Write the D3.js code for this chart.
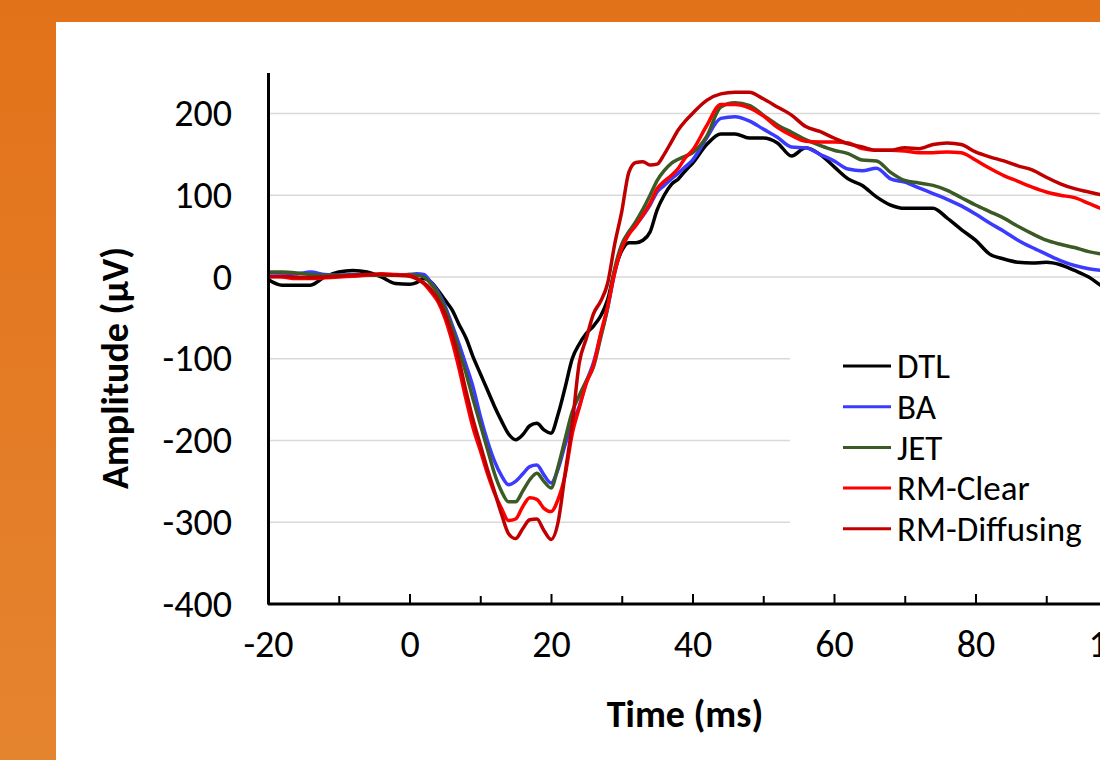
<!DOCTYPE html>
<html>
<head>
<meta charset="utf-8">
<script src="https://cdn.jsdelivr.net/npm/d3@7"></script>
<style>
  html, body { margin: 0; padding: 0; background: #fff; }
  svg { display: block; }
  text { font-family: Carlito, Calibri, Lato, sans-serif; }
</style>
</head>
<body>
<svg id="chart" width="1100" height="760"></svg>
<script>
'use strict';

// time points (ms)
const times = [
  -20, -18, -16, -14, -12, -10, -8, -6, -4, -2, 0,
  1, 2, 3, 4, 5, 6, 7, 8, 9, 10, 11, 12, 13, 14, 15, 16, 17, 18, 19, 20,
  21, 22, 23, 24, 25, 26, 27, 28, 29, 30, 31, 32, 33, 34, 35, 36, 37, 38, 39, 40,
  42, 44, 46, 48, 50, 52, 54, 56, 58, 60, 62, 64, 66, 68, 70,
  72, 74, 76, 78, 80, 82, 84, 86, 88, 90, 92, 94, 96, 98, 100
];

const dtl = [
  -3, -10, -10, -10, 0, 6, 8, 6, 0, -8, -9,
  -7, -2, -6, -16, -28, -40, -58, -75, -98, -118, -138, -158, -176, -192, -199, -193, -182, -179, -187, -191,
  -168, -135, -100, -82, -69, -60, -48, -28, 8, 32, 42, 42, 45, 55, 82, 100, 113, 120, 130, 139,
  162, 175, 175, 170, 170, 164, 148, 158, 150, 135, 120, 112, 98, 88, 84,
  84, 84, 72, 58, 45, 28, 22, 18, 17, 18, 15, 8, 0, -12, -20
];

const ba = [
  5, 5, 4, 6, 3, 2, 3, 2, 2, 2, 3,
  4, 3, -6, -18, -35, -58, -82, -108, -135, -170, -200, -225, -243, -254, -250, -241, -232, -230, -242, -252,
  -235, -205, -180, -158, -128, -105, -72, -38, 5, 38, 55, 64, 75, 88, 104, 112, 120, 127, 135, 143,
  170, 194, 196, 191, 181, 171, 159, 158, 150, 142, 132, 130, 133, 120, 116,
  109, 102, 95, 87, 77, 66, 56, 45, 36, 28, 20, 14, 10, 8, 7
];

const jet = [
  6, 6, 5, 3, 2, 2, 2, 2, 2, 2, 3,
  2, 0, -8, -20, -38, -62, -90, -118, -150, -180, -210, -240, -262, -275, -275, -262, -248, -240, -250, -258,
  -232, -198, -165, -145, -127, -110, -75, -38, 10, 40, 55, 68, 83, 100, 118, 130, 139, 144, 148, 152,
  172, 208, 213, 210, 198, 186, 177, 168, 161, 155, 151, 143, 142, 128, 118,
  115, 112, 106, 97, 88, 80, 72, 62, 53, 45, 40, 36, 31, 28, 26
];

const rmClear = [
  1, 0, -2, -2, -1, 0, 1, 2, 4, 3, 2,
  -2, -8, -18, -30, -50, -78, -112, -150, -185, -212, -240, -264, -283, -298, -296, -281, -270, -272, -283, -287,
  -272, -242, -192, -160, -130, -108, -70, -36, 5, 35, 52, 63, 76, 90, 108, 117, 124, 133, 146, 155,
  185, 211, 211, 207, 197, 183, 173, 166, 165, 165, 164, 157, 155, 155, 154,
  152, 152, 153, 152, 143, 133, 124, 117, 110, 104, 100, 97, 90, 83, 78
];

const rmDiffusing = [
  0, 1, 0, -1, 0, 1, 2, 3, 3, 2, 1,
  -2, -7, -15, -27, -45, -70, -102, -140, -175, -205, -235, -262, -290, -314, -320, -308, -297, -296, -310, -321,
  -300, -240, -180, -105, -75, -45, -30, -8, 40, 80, 128, 140, 141, 137, 138, 150, 165, 180, 191, 200,
  216, 224, 226, 226, 218, 208, 198, 184, 178, 170, 163, 159, 155, 155, 158,
  157, 162, 164, 162, 153, 147, 142, 136, 131, 122, 114, 108, 104, 100, 96
];

const seriesNames = ['DTL', 'BA', 'JET', 'RM-Clear', 'RM-Diffusing'];
const seriesColors = ['#000000', '#3b3bff', '#3b5a26', '#ff0000', '#c00000'];
const seriesValues = [dtl, ba, jet, rmClear, rmDiffusing];

const xTicks = [-20, 0, 20, 40, 60, 80, 100];
const xMinorTicks = [-10, 10, 30, 50, 70, 90];
const yTicks = [-400, -300, -200, -100, 0, 100, 200];

const svg = d3.select('#chart');
const W = 1100, H = 760;

// orange frame
const defs = svg.append('defs');
const grad = defs.append('linearGradient')
  .attr('id', 'frame')
  .attr('x1', 0).attr('y1', 0).attr('x2', 0).attr('y2', 1);
grad.append('stop').attr('offset', '0%').attr('stop-color', '#e2721a');
grad.append('stop').attr('offset', '100%').attr('stop-color', '#e5842f');

svg.append('rect').attr('width', W).attr('height', H).attr('fill', 'url(#frame)');
svg.append('rect').attr('x', 56).attr('y', 22).attr('width', W - 56).attr('height', H - 22).attr('fill', '#fff');

const x = d3.scaleLinear().domain([-20, 100]).range([268, 1117]);
const y = d3.scaleLinear().domain([-400, 250]).range([604, 72.6]);

// gridlines
svg.append('g')
  .selectAll('line')
  .data(yTicks.filter(function(d) { return d > -400; }))
  .enter()
  .append('line')
  .attr('x1', x(-20))
  .attr('x2', W)
  .attr('y1', function(d) { return y(d); })
  .attr('y2', function(d) { return y(d); })
  .attr('stroke', '#d9d9d9')
  .attr('stroke-width', 1.5);

// series lines
const line = d3.line()
  .x(function(d) { return x(d[0]); })
  .y(function(d) { return y(d[1]); })
  .curve(d3.curveMonotoneX);

svg.append('g')
  .selectAll('path')
  .data(seriesValues)
  .enter()
  .append('path')
  .attr('d', function(vals) { return line(times.map(function(t, i) { return [t, vals[i]]; })); })
  .attr('fill', 'none')
  .attr('stroke', function(d, i) { return seriesColors[i]; })
  .attr('stroke-width', 3.5)
  .attr('stroke-linejoin', 'round');

const plainNum = function(d) { return String(d); };

// axes
const xAxis = svg.append('g')
  .attr('transform', 'translate(0,' + y(-400) + ')')
  .call(d3.axisBottom(x).tickValues(xTicks).tickSize(-10).tickSizeOuter(0).tickPadding(26).tickFormat(plainNum));
xAxis.select('.domain').attr('stroke-width', 3).attr('d', 'M' + x(-20) + ',0H' + W);
xAxis.selectAll('.tick line').attr('stroke-width', 2);
xAxis.selectAll('text').attr('font-size', 38).attr('fill', '#000');

const xMinor = svg.append('g')
  .attr('transform', 'translate(0,' + y(-400) + ')')
  .call(d3.axisBottom(x).tickValues(xMinorTicks).tickSize(-8).tickFormat(''));
xMinor.select('.domain').remove();
xMinor.selectAll('.tick line').attr('stroke-width', 2);

const yAxis = svg.append('g')
  .attr('transform', 'translate(' + x(-20) + ',0)')
  .call(d3.axisLeft(y).tickValues(yTicks).tickSize(0).tickPadding(36).tickFormat(plainNum));
yAxis.select('.domain').attr('stroke-width', 3);
yAxis.selectAll('text').attr('font-size', 38).attr('fill', '#000');

// axis titles
svg.append('text')
  .attr('x', 685)
  .attr('y', 727)
  .attr('text-anchor', 'middle')
  .attr('font-size', 38)
  .attr('font-weight', 'bold')
  .text('Time (ms)');

svg.append('text')
  .attr('transform', 'translate(128,368) rotate(-90)')
  .attr('text-anchor', 'middle')
  .attr('font-size', 38)
  .attr('font-weight', 'bold')
  .text('Amplitude (μV)');

// legend
const legend = svg.append('g');
legend.append('rect')
  .attr('x', 790).attr('y', 338).attr('width', 320).attr('height', 218)
  .attr('fill', '#fff');

const items = legend.selectAll('g.item')
  .data(seriesNames)
  .enter()
  .append('g')
  .attr('class', 'item')
  .attr('transform', function(d, i) { return 'translate(843,' + (366 + i * 40.7) + ')'; });

items.append('line')
  .attr('x1', 0).attr('x2', 48)
  .attr('stroke', function(d, i) { return seriesColors[i]; })
  .attr('stroke-width', 3);

items.append('text')
  .attr('x', 54)
  .attr('dy', '0.35em')
  .attr('font-size', 35)
  .text(function(d) { return d; });
</script>
</body>
</html>
